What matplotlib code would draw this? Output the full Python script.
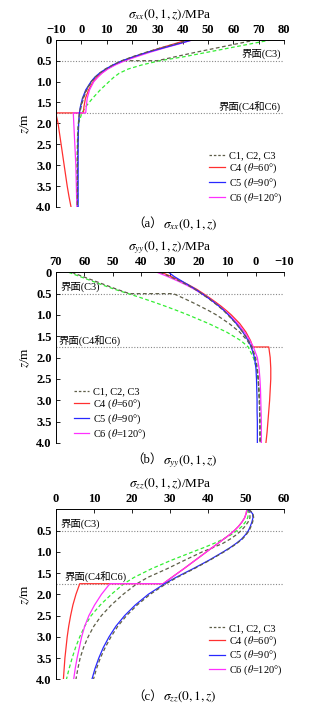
import numpy as np
import matplotlib
matplotlib.use('Agg')
import matplotlib.pyplot as plt

plt.rcParams['font.family'] = ['Liberation Serif', 'Noto Sans CJK SC']
plt.rcParams['mathtext.fontset'] = 'stix'
plt.rcParams['font.size'] = 9

# depth points (1.75 is the C4/C6 interface)
z_up = [0, 0.1, 0.2, 0.3, 0.4, 0.5, 0.6, 0.7, 0.8, 0.9, 1.0, 1.2, 1.4, 1.6, 1.75]
z_low = [1.75, 2.0, 2.25, 2.5, 2.75, 3.0, 3.25, 3.5, 3.75, 4.0]
# C3 has an interface at 0.5
z_c3 = [0, 0.1, 0.2, 0.3, 0.4, 0.5, 0.5, 0.6, 0.7, 0.8, 0.9, 1.0, 1.2, 1.4, 1.6, 1.75]

# ---- (a) sigma_xx ----
xx_c1_up = [43, 37, 31, 25.5, 20.5, 16, 12.5, 9.5, 7.2, 5.4, 4.0, 2.0, 0.7, -0.2, -0.7]
xx_c1_low = [-0.7, -1.1, -1.3, -1.4, -1.5, -1.5, -1.5, -1.5, -1.5, -1.5]
xx_c2_up = [75, 66.5, 58, 49.5, 41, 31, 24, 18.5, 15, 12.8, 11, 7.5, 4.5, 1.8, 0.3]
xx_c2_low = [0.3, -1.0, -1.4, -1.5, -1.5, -1.6, -1.6, -1.6, -1.6, -1.6]
xx_c3_up = [69, 61, 53, 45, 37.5, 30, 16.5, 13, 10, 7.6, 5.7, 4.2, 2.2, 0.9, 0.0, -0.5]
xx_c3_low = [-0.5, -1.0, -1.2, -1.3, -1.4, -1.4, -1.4, -1.4, -1.4, -1.4]
xx_c4_up = [42, 36.5, 31, 26, 21, 16.5, 13, 10.2, 8.0, 6.2, 4.8, 2.9, 1.7, 1.1, 0.9]
xx_c4_low = [-10, -9.1, -8.5, -7.9, -7.3, -6.7, -6.1, -5.5, -4.8, -4.0]
xx_c5_up = [44, 38, 32, 26, 20.8, 16.2, 12.6, 9.6, 7.2, 5.3, 3.9, 1.8, 0.5, -0.3, -0.7]
xx_c5_low = [-0.7, -1.0, -1.1, -1.2, -1.2, -1.2, -1.2, -1.2, -1.2, -1.2]
xx_c6_up = [44, 38.5, 32.5, 27, 22, 17.3, 13.5, 10.5, 8.2, 6.5, 5.0, 3.3, 2.4, 2.0, 1.8]
xx_c6_low = [-3.1, -2.9, -2.7, -2.5, -2.3, -2.1, -2.0, -1.9, -1.8, -1.7]

# ---- (b) sigma_yy ----
yy_c1_up = [33.5, 30, 26.8, 23.8, 21.2, 19, 16.8, 14.8, 12.9, 11.2, 9.7, 6.9, 4.5, 2.5, 1.3]
yy_c1_low = [1.3, 0.0, -0.6, -0.9, -1.1, -1.3, -1.4, -1.4, -1.5, -1.5]
yy_c2_up = [65.5, 61.5, 57.5, 53.5, 49.3, 44.6, 40, 35.6, 31.4, 27.4, 23.6, 16.5, 10.2, 5.2, 2.6]
yy_c2_low = [2.6, 0.8, -0.3, -0.9, -1.2, -1.4, -1.5, -1.6, -1.6, -1.7]
yy_c3_up = [64.4, 60.5, 56.5, 52.5, 48.5, 44.2, 28.8, 25.5, 22.3, 19.3, 16.4, 13.7, 9.3, 5.6, 2.9, 1.6]
yy_c3_low = [1.6, 0.3, -0.5, -0.9, -1.1, -1.3, -1.4, -1.5, -1.5, -1.6]
yy_c4_up = [33, 29.5, 26.3, 23.3, 20.6, 18.3, 16.1, 14, 12, 10.2, 8.5, 5.6, 3.4, 1.8, 1.0]
yy_c4_low = [-4.6, -5.1, -5.3, -5.3, -5.1, -4.9, -4.6, -4.3, -4.0, -3.6]
yy_c5_up = [30.5, 28.5, 26, 23.5, 21, 18.8, 16.6, 14.6, 12.7, 11.0, 9.5, 6.8, 4.5, 2.6, 1.5]
yy_c5_low = [1.5, 0.4, -0.1, -0.3, -0.4, -0.5, -0.5, -0.6, -0.6, -0.6]
yy_c6_up = [34.5, 30.8, 27.4, 24.2, 21.4, 19, 16.7, 14.6, 12.6, 10.8, 9.2, 6.3, 3.9, 2.0, 0.8]
yy_c6_low = [0.8, -0.6, -1.2, -1.5, -1.7, -1.8, -1.9, -2.0, -2.0, -2.0]

# ---- (c) sigma_zz ----
zz_c1_up = [50.8, 51.8, 52.0, 51.7, 51.3, 50.8, 50.0, 49.0, 47.6, 46.0, 44.2, 40.4, 36.3, 31.9, 29.0]
zz_c1_low = [29.0, 24.8, 21.4, 18.6, 16.3, 14.5, 13.0, 11.7, 10.7, 9.9]
zz_c2_up = [50.3, 50.6, 50.4, 49.8, 48.9, 47.6, 46.0, 44.0, 41.6, 38.9, 36.0, 30.3, 25.1, 20.6, 17.9]
zz_c2_low = [17.9, 14.6, 11.7, 9.3, 7.6, 6.3, 5.2, 4.3, 3.5, 2.8]
zz_c3_up = [50.5, 51.0, 51.0, 50.5, 49.7, 48.7, 48.7, 47.4, 45.8, 43.9, 41.3, 38.5, 33.8, 29.2, 24.2, 21.3]
zz_c3_low = [21.3, 17.7, 14.6, 12.0, 10.0, 8.5, 7.3, 6.4, 5.8, 5.3]
zz_c4_up = [50.2, 50.0, 49.6, 48.9, 48.0, 46.9, 45.6, 44.1, 42.6, 41.1, 39.6, 36.6, 33.6, 30.5, 28.2]
zz_c4_low = [6.3, 5.3, 4.5, 3.9, 3.4, 3.0, 2.7, 2.4, 2.2, 2.0]
zz_c5_up = [50.5, 51.7, 51.8, 51.5, 51.1, 50.6, 49.8, 48.8, 47.4, 45.8, 44.0, 40.2, 36.0, 31.6, 28.6]
zz_c5_low = [28.6, 24.3, 20.9, 18.1, 15.8, 14.0, 12.5, 11.3, 10.3, 9.5]
zz_c6_up = [50.2, 50.0, 49.6, 48.9, 48.0, 46.9, 45.6, 44.1, 42.6, 41.1, 39.6, 36.6, 33.6, 30.5, 28.2]
zz_c6_low = [14.2, 12.0, 10.2, 8.7, 7.6, 6.8, 6.2, 5.6, 5.1, 4.7]

labels = ['C1, C2, C3', r'C4 ($\theta$=60°)', r'C5 ($\theta$=90°)', r'C6 ($\theta$=120°)']
col_dash = '#5e5e48'
col_green = '#33ee33'
col_red = '#ff3030'
col_blue = '#2828ff'
col_pink = '#ff30ff'


def panel(ax, d, xlim, xticks, yticks, xlabel, tag, cap, iface_side, leg_loc, leg_anchor):
    (c1u, c1l, c2u, c2l, c3u, c3l, c4u, c4l, c5u, c5l, c6u, c6l) = d
    lw = 0.9
    ax.plot(c2u + c2l, z_up + z_low, '--', color=col_green, lw=lw, dashes=(3, 2))
    ax.plot(c3u + c3l, z_c3 + z_low, '--', color=col_dash, lw=lw, dashes=(3, 2))
    ax.plot(c4u + c4l, z_up + z_low, '-', color=col_red, lw=lw, label=labels[1])
    ax.plot(c6u + c6l, z_up + z_low, '-', color=col_pink, lw=lw, label=labels[3])
    ax.plot(c5u + c5l, z_up + z_low, '-', color=col_blue, lw=lw, label=labels[2])
    ax.plot(c1u + c1l, z_up + z_low, '--', color=col_dash, lw=lw, dashes=(3, 2), label=labels[0])

    for zi in [0.5, 1.75]:
        ax.axhline(zi, color='#888888', lw=0.8, ls=(0, (1, 1.5)), zorder=0)

    ax.set_xlim(*xlim)
    ax.set_ylim(4.0, 0)
    ax.set_xticks(xticks)
    ax.set_xticklabels([str(t).replace('-', '\u2212') for t in xticks], fontweight='bold')
    ax.set_yticks(yticks)
    ax.set_yticklabels(['0' if t == 0 else '%.1f' % t for t in yticks], fontweight='bold')
    ax.xaxis.tick_top()
    ax.xaxis.set_label_position('top')
    ax.tick_params(direction='in', length=3, width=0.6, labelsize=9, pad=3)
    ax.set_xlabel(xlabel, fontsize=9.5, labelpad=4.5)
    ax.set_ylabel(r'$z$/m', fontsize=9.5, labelpad=3)
    for s in ['right', 'bottom']:
        ax.spines[s].set_visible(False)
    for s in ['top', 'left']:
        ax.spines[s].set_linewidth(0.7)

    tr = ax.get_yaxis_transform()
    if iface_side == 'right':
        ax.text(0.985, 0.47, '界面(C3)', transform=tr, ha='right', va='bottom', fontsize=7.5)
        ax.text(0.985, 1.72, '界面(C4和C6)', transform=tr, ha='right', va='bottom', fontsize=7.5)
    else:
        ax.text(0.02, 0.47, '界面(C3)', transform=tr, ha='left', va='bottom', fontsize=7.5)
        ax.text(iface_side, 1.72, '界面(C4和C6)', transform=tr, ha='left', va='bottom', fontsize=7.5)

    h, l = ax.get_legend_handles_labels()
    order = [3, 0, 2, 1]
    leg = ax.legend([h[i] for i in order], [l[i] for i in order], loc=leg_loc, bbox_to_anchor=leg_anchor,
                    frameon=False, fontsize=7.5, handlelength=1.5, handletextpad=0.35, labelspacing=0.12,
                    borderaxespad=0, borderpad=0.2)
    leg.get_lines()[0].set_dashes((2, 1.5))
    # caption below the panel: full-width bracket tag + math part
    ax.text(0.47, -0.065, tag, transform=ax.transAxes, ha='right', va='top', fontsize=9)
    ax.text(0.47, -0.06, cap, transform=ax.transAxes, ha='left', va='top', fontsize=9.5)


fig = plt.figure(figsize=(3.32, 7.11), dpi=100)
ax_a = fig.add_axes([0.168, 0.709, 0.688, 0.235])
ax_b = fig.add_axes([0.168, 0.377, 0.688, 0.240])
ax_c = fig.add_axes([0.168, 0.0446, 0.688, 0.239])

panel(ax_a, (xx_c1_up, xx_c1_low, xx_c2_up, xx_c2_low, xx_c3_up, xx_c3_low,
             xx_c4_up, xx_c4_low, xx_c5_up, xx_c5_low, xx_c6_up, xx_c6_low),
      (-10, 80), list(range(-10, 81, 10)), np.arange(0, 4.01, 0.5),
      r'$\sigma_{xx}(0,1,z)$/MPa', '（a）', r'$\sigma_{xx}(0,1,z)$', 'right', 'lower right', (1.0, 0.0))

panel(ax_b, (yy_c1_up, yy_c1_low, yy_c2_up, yy_c2_low, yy_c3_up, yy_c3_low,
             yy_c4_up, yy_c4_low, yy_c5_up, yy_c5_low, yy_c6_up, yy_c6_low),
      (70, -10), list(range(70, -11, -10)), np.arange(0, 4.01, 0.5),
      r'$\sigma_{yy}(0,1,z)$/MPa', '（b）', r'$\sigma_{yy}(0,1,z)$', 0.01, 'lower left', (0.07, 0.0))

panel(ax_c, (zz_c1_up, zz_c1_low, zz_c2_up, zz_c2_low, zz_c3_up, zz_c3_low,
             zz_c4_up, zz_c4_low, zz_c5_up, zz_c5_low, zz_c6_up, zz_c6_low),
      (0, 60), list(range(0, 61, 10)), np.arange(0.5, 4.01, 0.5),
      r'$\sigma_{zz}(0,1,z)$/MPa', '（c）', r'$\sigma_{zz}(0,1,z)$', 0.04, 'lower right', (1.0, 0.0))

fig.savefig('out.png', dpi=100)
